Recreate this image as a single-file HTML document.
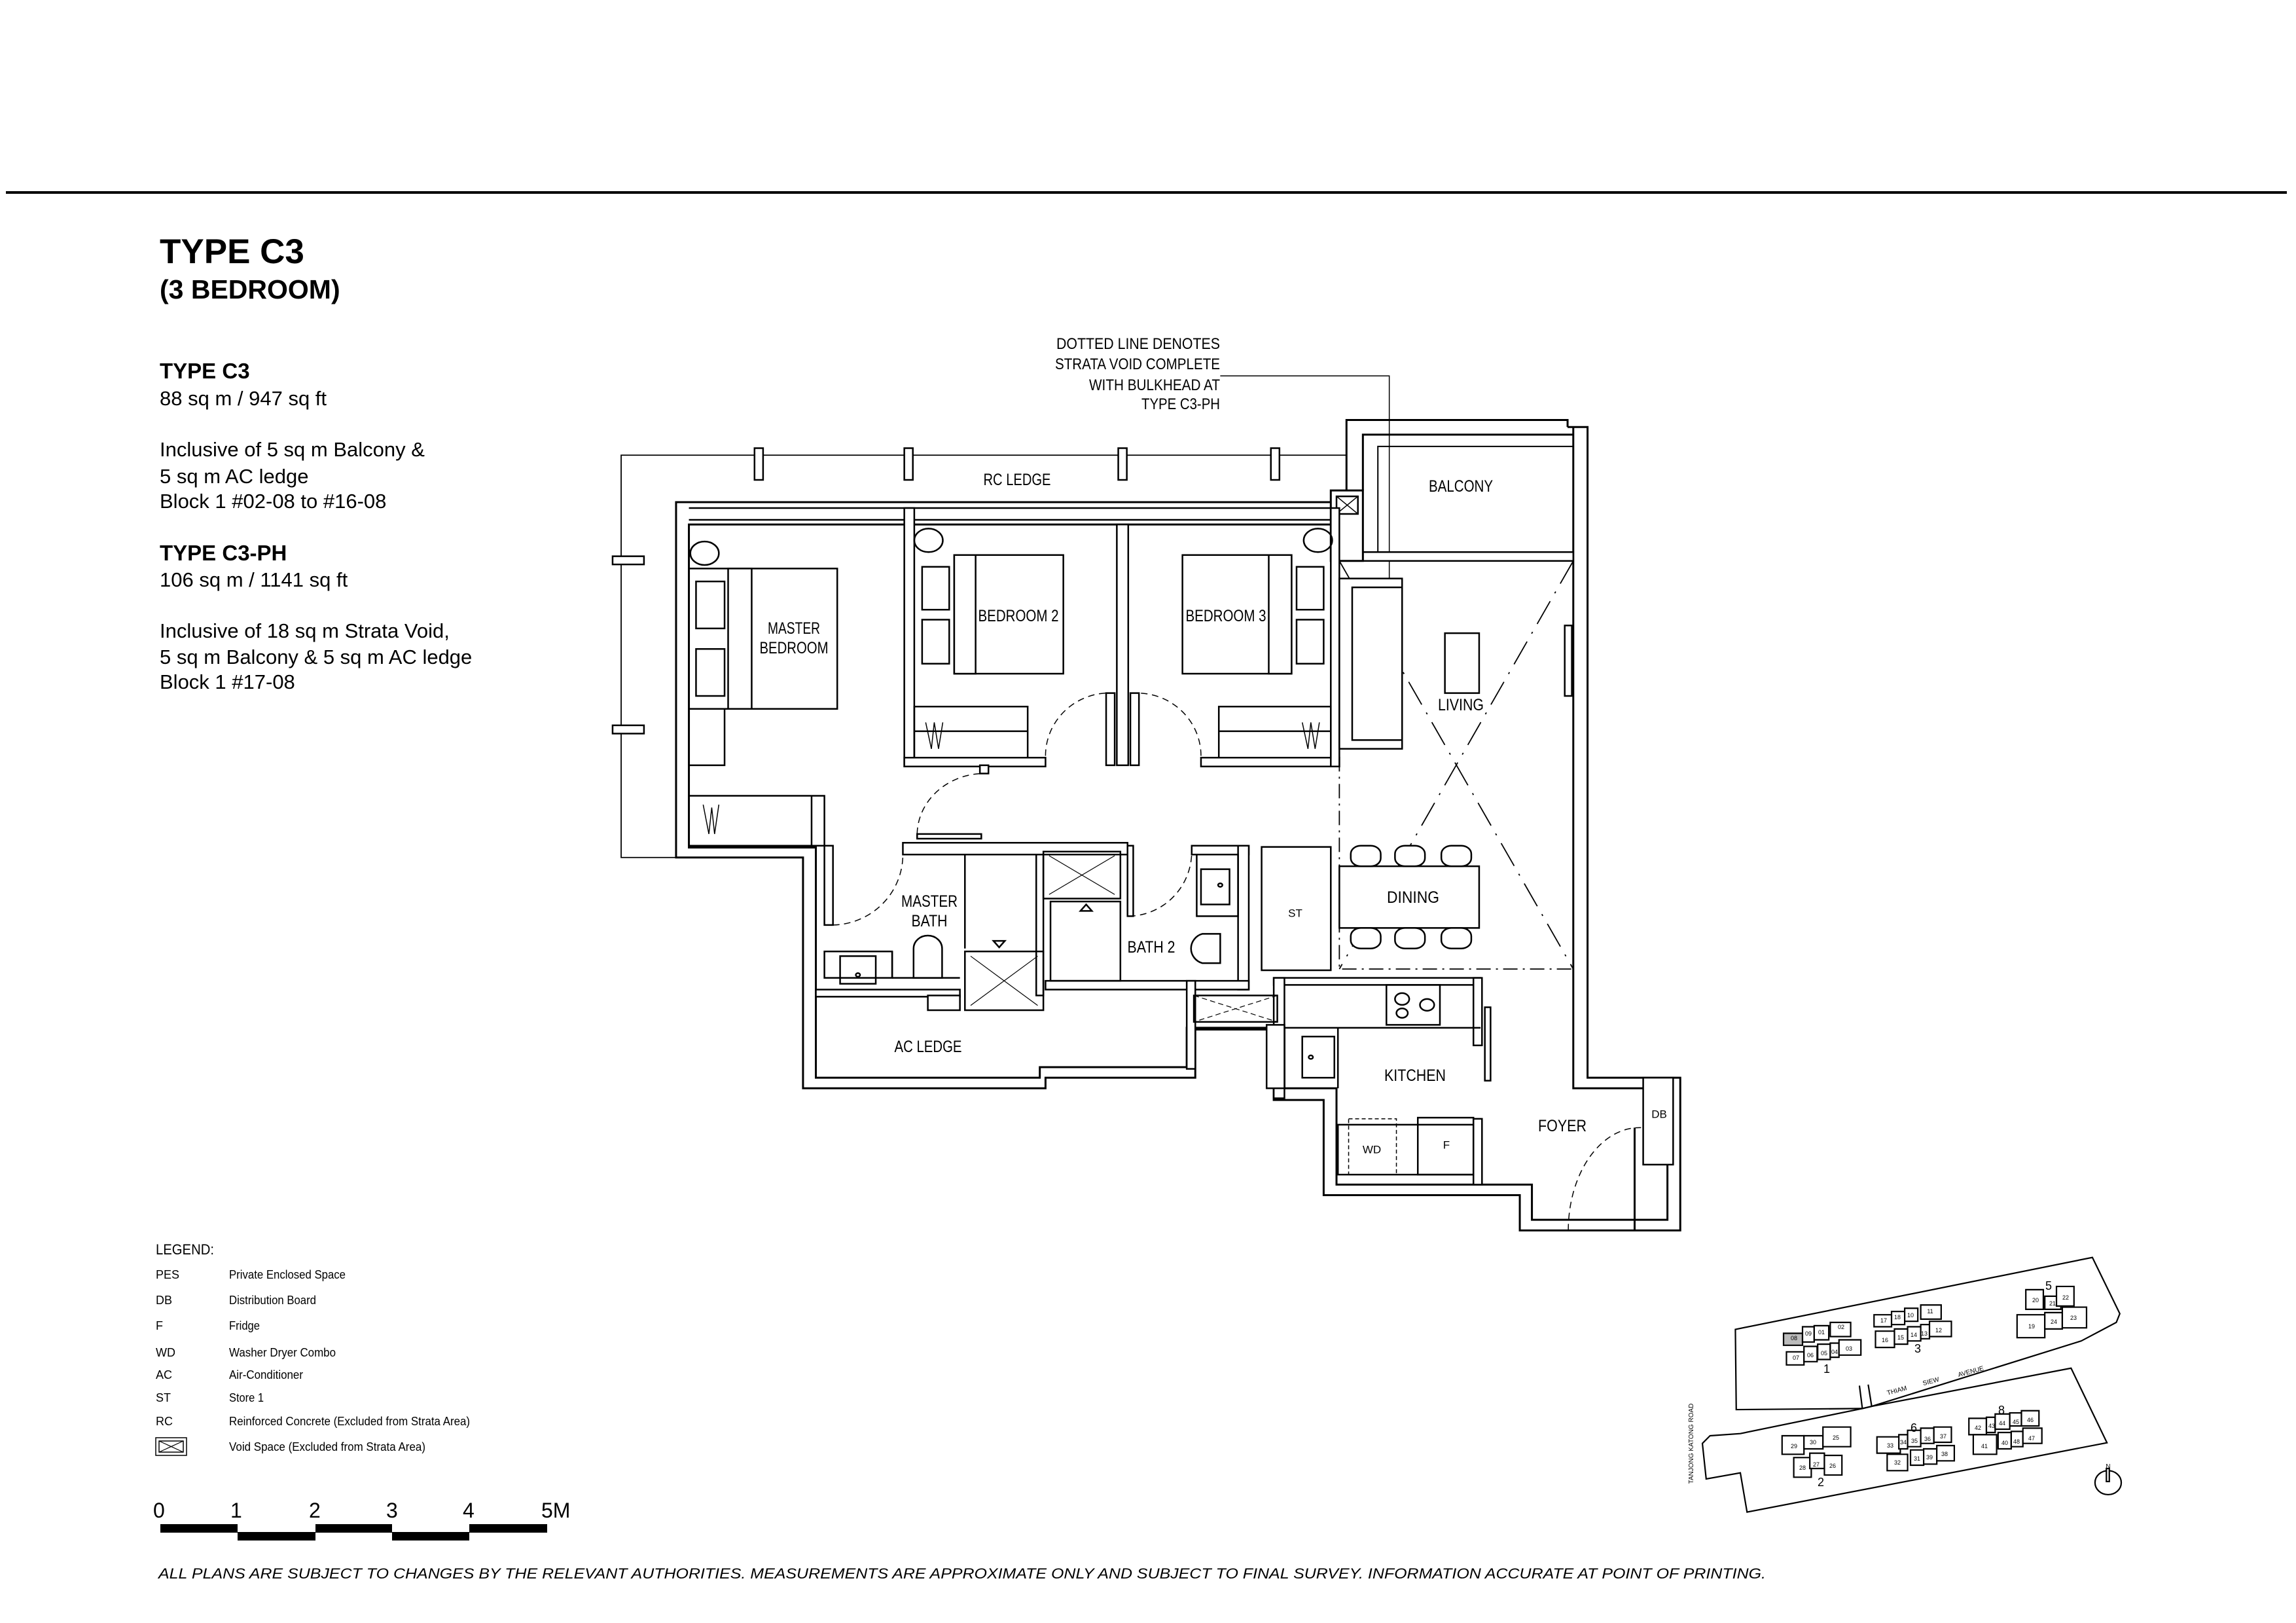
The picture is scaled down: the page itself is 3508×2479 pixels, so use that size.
<!DOCTYPE html>
<html><head><meta charset="utf-8">
<style>
html,body{margin:0;padding:0;background:#fff;}
svg{display:block;}
.ns *, .ns{vector-effect:non-scaling-stroke;}
text{font-family:"Liberation Sans",Arial,sans-serif;fill:#000;}
</style></head>
<body>
<svg width="3508" height="2479" viewBox="0 0 3508 2479" xmlns="http://www.w3.org/2000/svg">
<rect width="3508" height="2479" fill="#fff"/>
<!-- top rule -->
<rect x="9" y="292" width="3485" height="4" fill="#000"/>

<!-- titles -->
<text x="244" y="402" font-size="53" font-weight="bold">TYPE  C3</text>
<text x="244" y="456" font-size="41" font-weight="bold">(3 BEDROOM)</text>
<text x="244" y="578" font-size="33" font-weight="bold">TYPE C3</text>
<text x="244" y="619" font-size="31">88 sq m / 947 sq ft</text>
<text x="244" y="697" font-size="31">Inclusive of 5 sq m Balcony &amp;</text>
<text x="244" y="738" font-size="31">5 sq m AC ledge</text>
<text x="244" y="776" font-size="31">Block 1  #02-08 to #16-08</text>
<text x="244" y="856" font-size="33" font-weight="bold">TYPE C3-PH</text>
<text x="244" y="896" font-size="31">106 sq m / 1141 sq ft</text>
<text x="244" y="974" font-size="31">Inclusive of 18 sq m Strata Void,</text>
<text x="244" y="1014" font-size="31">5 sq m Balcony &amp; 5 sq m AC ledge</text>
<text x="244" y="1052" font-size="31">Block 1  #17-08</text>

<!-- annotation -->
<g font-size="24" text-anchor="end">
<text x="1864" y="533" textLength="250" lengthAdjust="spacingAndGlyphs">DOTTED LINE DENOTES</text>
<text x="1864" y="564" textLength="252" lengthAdjust="spacingAndGlyphs">STRATA VOID COMPLETE</text>
<text x="1864" y="596" textLength="200" lengthAdjust="spacingAndGlyphs">WITH BULKHEAD AT</text>
<text x="1864" y="625" textLength="120" lengthAdjust="spacingAndGlyphs">TYPE C3-PH</text>
</g>

<!-- FLOOR PLAN in zoom coords -->
<g class="ns" transform="translate(900,480) scale(1.0897,0.897)" fill="none" stroke="#000" stroke-width="2.5">
 <!-- leader -->
 <polyline points="885,105 1122,105 1122,590" stroke-width="1.5"/>
 <polygon points="1116,570 1128,570 1122,605" fill="#000" stroke="none"/>
 <!-- RC ledge -->
 <polyline points="1062,240 45,240 45,925 122,925" stroke-width="1.8"/>
 <g fill="#fff">
  <rect x="232" y="228" width="12" height="54"/><rect x="442" y="228" width="12" height="54"/>
  <rect x="742" y="228" width="12" height="54"/><rect x="956" y="228" width="12" height="54"/>
  <rect x="33" y="412" width="44" height="14"/><rect x="33" y="700" width="44" height="14"/>
 </g>
 <!-- outer walls -->
 <path d="M1040,320 L122,320 L122,925 L300,925 L300,1318 L640,1318 L640,1300 L850,1300 L850,1218 L960,1218 L960,1338 L1030,1338 L1030,1500 L1305,1500 L1305,1560 L1530,1560 L1530,1300 L1400,1300 L1400,192 L1372,192" stroke-width="3"/>
 <path d="M1040,358 L140,358 L140,908 L318,908 L318,1300 L632,1300 L632,1282 L838,1282 L838,1215 L975,1215 L975,1318 L1048,1318 L1048,1482 L1322,1482 L1322,1542 L1512,1542 L1512,1318 L1380,1318 L1380,192" stroke-width="3"/>
 <line x1="140" y1="330" x2="1040" y2="330"/><line x1="140" y1="350" x2="1040" y2="350"/>
 <!-- balcony -->
 <path d="M1062,300 L1062,180 L1372,180 L1372,192" stroke-width="3"/>
 <path d="M1085,300 L1085,205 L1380,205" stroke-width="3"/>
 <path d="M1106,420 L1106,225 L1380,225" stroke-width="2"/>
 <rect x="1085" y="405" width="295" height="15" fill="#fff"/>
 <rect x="1040" y="300" width="45" height="120" fill="#fff" stroke-width="3"/>
 <rect x="1048" y="310" width="30" height="30"/><path d="M1048,310 L1078,340 M1078,310 L1048,340" stroke-width="1.5"/>
 <!-- interior walls -->
 <g fill="#fff" stroke-width="2.5">
  <rect x="442" y="330" width="14" height="440"/>
  <rect x="442" y="755" width="198" height="15"/>
  <rect x="740" y="358" width="16" height="410"/>
  <rect x="725" y="645" width="12" height="123"/><rect x="759" y="645" width="12" height="123"/>
  <rect x="858" y="755" width="194" height="15"/>
  <rect x="1040" y="330" width="12" height="440"/>
  <rect x="548" y="768" width="12" height="14"/>
  <rect x="440" y="900" width="315" height="20"/>
  <rect x="460" y="885" width="90" height="8"/>
  <rect x="330" y="905" width="12" height="135"/>
  <rect x="755" y="905" width="8" height="120"/>
  <rect x="845" y="905" width="80" height="15"/>
  <rect x="910" y="905" width="15" height="245"/>
  <rect x="943" y="907" width="97" height="210"/>
  <rect x="627" y="920" width="10" height="240"/>
  <rect x="318" y="1150" width="202" height="12"/>
  <rect x="640" y="1135" width="285" height="15"/>
  <rect x="475" y="1160" width="45" height="25"/>
  <rect x="960" y="1130" width="290" height="12"/>
  <rect x="960" y="1130" width="15" height="205"/>
  <rect x="1240" y="1130" width="12" height="115"/>
  <rect x="1240" y="1370" width="12" height="112"/>
  <rect x="1478" y="1300" width="42" height="148"/>
  <rect x="838" y="1135" width="12" height="150"/>
  <rect x="950" y="1210" width="25" height="108"/>
 </g>
 <rect x="1256" y="1180" width="8" height="125"/>
 <rect x="1368" y="530" width="10" height="120"/>
 <line x1="1466" y1="1385" x2="1466" y2="1560" stroke-width="3"/>
 <!-- strata void -->
 <rect x="1052" y="420" width="328" height="695" stroke-dasharray="22,8,3,8" stroke-width="1.8"/>
 <path d="M1052,420 L1380,1115 M1380,420 L1052,1115" stroke-dasharray="40,14,3,14" stroke-width="1.8"/>
 <!-- sofa / tv -->
 <rect x="1052" y="450" width="88" height="290" fill="#fff"/>
 <rect x="1070" y="465" width="70" height="260"/>
 <rect x="1200" y="543" width="48" height="102"/>
 <!-- dining -->
 <rect x="1052" y="940" width="196" height="105" fill="#fff"/>
 <g fill="#fff">
  <rect x="1068" y="905" width="42" height="35" rx="14"/><rect x="1130" y="905" width="42" height="35" rx="14"/><rect x="1195" y="905" width="42" height="35" rx="14"/>
  <rect x="1068" y="1045" width="42" height="35" rx="14"/><rect x="1130" y="1045" width="42" height="35" rx="14"/><rect x="1195" y="1045" width="42" height="35" rx="14"/>
 </g>
 <!-- master bedroom furniture -->
 <circle cx="162" cy="407" r="20"/>
 <rect x="140" y="433" width="208" height="239"/>
 <rect x="195" y="433" width="33" height="239" fill="#fff"/>
 <rect x="150" y="455" width="40" height="80"/><rect x="150" y="570" width="40" height="80"/>
 <rect x="140" y="672" width="50" height="96"/>
 <rect x="140" y="820" width="190" height="85"/><line x1="312" y1="820" x2="312" y2="905"/>
 <path d="M160,835 L168,885 L172,840 L176,885 L182,835" stroke-width="1.5"/>
 <!-- BR2 -->
 <circle cx="476" cy="385" r="20"/>
 <rect x="512" y="410" width="153" height="202"/>
 <rect x="512" y="410" width="30" height="202" fill="#fff"/>
 <rect x="467" y="430" width="38" height="73"/><rect x="467" y="520" width="38" height="75"/>
 <rect x="456" y="668" width="159" height="87"/><line x1="456" y1="710" x2="615" y2="710"/>
 <path d="M472,695 L480,740 L484,695 L490,740 L496,695" stroke-width="1.5"/>
 <!-- BR3 -->
 <circle cx="1022" cy="385" r="20"/>
 <rect x="832" y="410" width="153" height="202"/>
 <rect x="953" y="410" width="32" height="202" fill="#fff"/>
 <rect x="992" y="430" width="38" height="73"/><rect x="992" y="520" width="38" height="75"/>
 <rect x="883" y="668" width="157" height="87"/><line x1="883" y1="710" x2="1040" y2="710"/>
 <path d="M1000,695 L1008,740 L1012,695 L1018,740 L1024,695" stroke-width="1.5"/>
 <!-- doors -->
 <g stroke-dasharray="10,7" stroke-width="1.5">
  <path d="M640,752 A90,107 0 0 1 725,645"/>
  <path d="M858,752 A90,107 0 0 0 771,645"/>
  <path d="M460,885 A95,105 0 0 1 550,782"/>
  <path d="M342,1040 A100,120 0 0 0 440,920"/>
  <path d="M757,1025 A90,110 0 0 0 845,915"/>
  <path d="M1373,1560 A100,175 0 0 1 1475,1385"/>
 </g>
 <!-- baths -->
 <line x1="527" y1="920" x2="527" y2="1080"/>
 <rect x="527" y="1085" width="110" height="100"/><path d="M535,1093 L629,1177 M629,1093 L535,1177" stroke-width="1.2"/>
 <polygon points="567,1067 583,1067 575,1078"/>
 <rect x="637" y="915" width="108" height="80"/><path d="M645,922 L737,988 M737,922 L645,988" stroke-width="1.2"/>
 <rect x="647" y="1000" width="98" height="135"/>
 <polygon points="689,1016 705,1016 697,1005"/>
 <rect x="330" y="1085" width="95" height="45"/>
 <rect x="352" y="1093" width="50" height="47"/><circle cx="377" cy="1125" r="3"/>
 <line x1="330" y1="1085" x2="425" y2="1085"/><line x1="425" y1="1085" x2="425" y2="1130"/><line x1="425" y1="1130" x2="520" y2="1130"/>
 <path d="M455,1130 L455,1080 A20,22 0 0 1 495,1080 L495,1130 Z" fill="#fff"/>
 <rect x="852" y="920" width="58" height="105"/>
 <rect x="858" y="945" width="40" height="60"/><circle cx="885" cy="972" r="3"/>
 <path d="M885,1055 L860,1055 A22,26 0 0 0 860,1105 L885,1105 Z" fill="#fff"/>
 <!-- void box -->
 <rect x="848" y="1160" width="117" height="45"/>
 <path d="M848,1160 L965,1205 M965,1160 L848,1205" stroke-dasharray="8,5" stroke-width="1.2"/>
 <!-- kitchen -->
 <rect x="1118" y="1142" width="75" height="68"/>
 <circle cx="1140" cy="1166" r="10"/><circle cx="1175" cy="1176" r="10"/><circle cx="1140" cy="1190" r="8"/>
 <path d="M975,1215 L1250,1215 M1050,1215 L1050,1318"/>
 <rect x="1000" y="1230" width="45" height="70"/><circle cx="1012" cy="1265" r="3"/>
 <rect x="1050" y="1380" width="190" height="85"/>
 <rect x="1065" y="1370" width="67" height="95" stroke-dasharray="6,4" stroke-width="1.5"/>
 <rect x="1162" y="1368" width="78" height="97"/>
</g>

<!-- plan labels -->
<g font-size="25" text-anchor="middle" dominant-baseline="central">
<text x="1213" y="960" textLength="80" lengthAdjust="spacingAndGlyphs">MASTER</text>
<text x="1213" y="990" textLength="105" lengthAdjust="spacingAndGlyphs">BEDROOM</text>
<text x="1556" y="941" textLength="123" lengthAdjust="spacingAndGlyphs">BEDROOM 2</text>
<text x="1873" y="941" textLength="123" lengthAdjust="spacingAndGlyphs">BEDROOM 3</text>
<text x="2232" y="1077" textLength="70" lengthAdjust="spacingAndGlyphs">LIVING</text>
<text x="2159" y="1371" textLength="80" lengthAdjust="spacingAndGlyphs">DINING</text>
<text x="2232" y="743" textLength="98" lengthAdjust="spacingAndGlyphs">BALCONY</text>
<text x="1554" y="733" textLength="103" lengthAdjust="spacingAndGlyphs">RC LEDGE</text>
<text x="1420" y="1377" textLength="86" lengthAdjust="spacingAndGlyphs">MASTER</text>
<text x="1420" y="1407" textLength="55" lengthAdjust="spacingAndGlyphs">BATH</text>
<text x="1759" y="1447" textLength="73" lengthAdjust="spacingAndGlyphs">BATH 2</text>
<text x="1979" y="1395" font-size="17">ST</text>
<text x="1418" y="1599" textLength="103" lengthAdjust="spacingAndGlyphs">AC LEDGE</text>
<text x="2162" y="1643" textLength="94" lengthAdjust="spacingAndGlyphs">KITCHEN</text>
<text x="2387" y="1720" textLength="74" lengthAdjust="spacingAndGlyphs">FOYER</text>
<text x="2096" y="1756" font-size="17">WD</text>
<text x="2210" y="1749" font-size="17">F</text>
<text x="2535" y="1702" font-size="17">DB</text>
</g>

<!-- legend -->
<text x="238" y="1916" font-size="22" textLength="89" lengthAdjust="spacingAndGlyphs">LEGEND:</text>
<g font-size="18">
<text x="238" y="1953">PES</text><text x="350" y="1953" textLength="178" lengthAdjust="spacingAndGlyphs">Private Enclosed Space</text>
<text x="238" y="1992">DB</text><text x="350" y="1992" textLength="133" lengthAdjust="spacingAndGlyphs">Distribution Board</text>
<text x="238" y="2031">F</text><text x="350" y="2031" textLength="47" lengthAdjust="spacingAndGlyphs">Fridge</text>
<text x="238" y="2072">WD</text><text x="350" y="2072" textLength="163" lengthAdjust="spacingAndGlyphs">Washer Dryer Combo</text>
<text x="238" y="2106">AC</text><text x="350" y="2106" textLength="113" lengthAdjust="spacingAndGlyphs">Air-Conditioner</text>
<text x="238" y="2141">ST</text><text x="350" y="2141" textLength="53" lengthAdjust="spacingAndGlyphs">Store 1</text>
<text x="238" y="2177">RC</text><text x="350" y="2177" textLength="368" lengthAdjust="spacingAndGlyphs">Reinforced Concrete (Excluded from Strata Area)</text>
<text x="350" y="2216" textLength="300" lengthAdjust="spacingAndGlyphs">Void Space (Excluded from Strata Area)</text>
</g>
<rect x="238" y="2196" width="47" height="27" fill="none" stroke="#000" stroke-width="1.5"/>
<rect x="243" y="2201" width="37" height="17" fill="none" stroke="#000" stroke-width="1.5"/>
<path d="M243,2201 L280,2218 M280,2201 L243,2218" stroke="#000" stroke-width="1.2"/>

<!-- scale bar -->
<g font-size="32">
<text x="234" y="2318">0</text><text x="352" y="2318">1</text><text x="472" y="2318">2</text>
<text x="590" y="2318">3</text><text x="707" y="2318">4</text><text x="827" y="2318">5M</text>
</g>
<g fill="#000">
<rect x="245" y="2328" width="118" height="13"/><rect x="363" y="2340" width="119" height="13"/>
<rect x="482" y="2328" width="117" height="13"/><rect x="599" y="2340" width="118" height="13"/>
<rect x="717" y="2328" width="119" height="13"/>
</g>

<!-- footer -->
<text x="242" y="2411" font-size="22" font-style="italic" textLength="2456" lengthAdjust="spacingAndGlyphs">ALL PLANS ARE SUBJECT TO CHANGES BY THE RELEVANT AUTHORITIES. MEASUREMENTS ARE APPROXIMATE ONLY AND SUBJECT TO FINAL SURVEY. INFORMATION ACCURATE AT POINT OF PRINTING.</text>

<!-- site map -->
<g class="ns" transform="translate(2560,1880) scale(0.446,0.333)" fill="none" stroke="#000" stroke-width="2.2">
 <polygon points="205,452 1428,122 1522,380 1510,420 1390,505 672,805 640,815 208,820"/>
 <polygon points="118,940 222,930 640,815 672,805 1355,630 1478,972 245,1290 222,1110 105,1138 92,975"/>
 <line x1="630" y1="710" x2="640" y2="815"/><line x1="660" y1="705" x2="672" y2="805"/>
 <g fill="#fff">
  <rect x="370" y="470" width="65" height="55" fill="#bbb"/><rect x="435" y="440" width="40" height="70"/><rect x="475" y="435" width="50" height="65"/><rect x="530" y="420" width="70" height="65"/>
  <rect x="380" y="555" width="60" height="60"/><rect x="440" y="530" width="45" height="70"/><rect x="487" y="520" width="43" height="70"/><rect x="530" y="515" width="30" height="65"/><rect x="560" y="500" width="75" height="70"/>
  <rect x="680" y="385" width="60" height="55"/><rect x="740" y="370" width="45" height="60"/><rect x="785" y="355" width="45" height="60"/><rect x="840" y="340" width="70" height="65"/>
  <rect x="685" y="460" width="65" height="75"/><rect x="750" y="450" width="45" height="70"/><rect x="795" y="440" width="45" height="65"/><rect x="840" y="430" width="30" height="65"/><rect x="870" y="415" width="75" height="70"/>
  <rect x="1200" y="270" width="60" height="90"/><rect x="1265" y="300" width="55" height="60"/><rect x="1305" y="255" width="60" height="90"/>
  <rect x="1170" y="385" width="95" height="105"/><rect x="1265" y="375" width="60" height="75"/><rect x="1325" y="350" width="83" height="95"/>
  <rect x="365" y="940" width="75" height="85"/><rect x="440" y="940" width="65" height="60"/><rect x="505" y="900" width="95" height="90"/>
  <rect x="405" y="1040" width="60" height="90"/><rect x="460" y="1020" width="50" height="70"/><rect x="510" y="1030" width="60" height="90"/>
  <rect x="690" y="945" width="80" height="75"/><rect x="765" y="935" width="30" height="65"/><rect x="795" y="915" width="45" height="75"/><rect x="840" y="905" width="45" height="70"/><rect x="885" y="900" width="60" height="70"/>
  <rect x="725" y="1025" width="70" height="75"/><rect x="805" y="1005" width="45" height="70"/><rect x="850" y="1000" width="45" height="70"/><rect x="895" y="985" width="60" height="70"/>
  <rect x="1005" y="860" width="60" height="75"/><rect x="1065" y="855" width="30" height="70"/><rect x="1095" y="840" width="50" height="70"/><rect x="1145" y="835" width="40" height="60"/><rect x="1185" y="825" width="60" height="70"/>
  <rect x="1020" y="935" width="80" height="90"/><rect x="1105" y="925" width="45" height="75"/><rect x="1150" y="920" width="40" height="70"/><rect x="1190" y="905" width="65" height="70"/>
 </g>
 <ellipse cx="1482" cy="1155" rx="45" ry="55"/>
 <rect x="1476" y="1090" width="10" height="60" fill="#fff"/>
</g>
<g font-size="18" text-anchor="middle">
 <text x="2791" y="2097">1</text><text x="2930" y="2066">3</text><text x="3130" y="1970">5</text>
 <text x="2782" y="2270">2</text><text x="2924" y="2187">6</text><text x="3058" y="2160">8</text>
 <text x="3221" y="2243" font-size="10">N</text>
</g>
<g font-size="9" text-anchor="middle">
 <text x="2741" y="2047">08</text><text x="2763" y="2040">09</text><text x="2783" y="2038">01</text><text x="2813" y="2030">02</text>
 <text x="2744" y="2077">07</text><text x="2766" y="2073">06</text><text x="2787" y="2070">05</text><text x="2803" y="2068">04</text><text x="2825" y="2063">03</text>
 <text x="2878" y="2020">17</text><text x="2899" y="2015">18</text><text x="2919" y="2012">10</text><text x="2949" y="2006">11</text>
 <text x="2880" y="2050">16</text><text x="2904" y="2046">15</text><text x="2924" y="2042">14</text><text x="2940" y="2040">13</text><text x="2962" y="2035">12</text>
 <text x="3110" y="1989">20</text><text x="3136" y="1994">21</text><text x="3156" y="1985">22</text>
 <text x="3104" y="2029">19</text><text x="3138" y="2022">24</text><text x="3168" y="2016">23</text>
 <text x="2741" y="2212">29</text><text x="2770" y="2206">30</text><text x="2805" y="2199">25</text>
 <text x="2754" y="2245">28</text><text x="2775" y="2240">27</text><text x="2800" y="2242">26</text>
 <text x="2888" y="2211">33</text><text x="2908" y="2206">34</text><text x="2925" y="2204">35</text><text x="2945" y="2201">36</text><text x="2969" y="2197">37</text>
 <text x="2899" y="2237">32</text><text x="2929" y="2231">31</text><text x="2948" y="2229">39</text><text x="2971" y="2224">38</text>
 <text x="3022" y="2184">42</text><text x="3043" y="2181">43</text><text x="3059" y="2177">44</text><text x="3080" y="2175">45</text><text x="3102" y="2172">46</text>
 <text x="3032" y="2212">41</text><text x="3063" y="2207">40</text><text x="3081" y="2205">48</text><text x="3104" y="2200">47</text>
 <text x="2899" y="2127" transform="rotate(-15 2899 2127)" font-size="10">THIAM</text>
 <text x="2951" y="2113" transform="rotate(-15 2951 2113)" font-size="10">SIEW</text>
 <text x="3012" y="2098" transform="rotate(-15 3012 2098)" font-size="10">AVENUE</text>
 <text x="2587" y="2205" transform="rotate(-90 2587 2205)" font-size="10">TANJONG    KATONG    ROAD</text>
</g>
</svg>
</body></html>
